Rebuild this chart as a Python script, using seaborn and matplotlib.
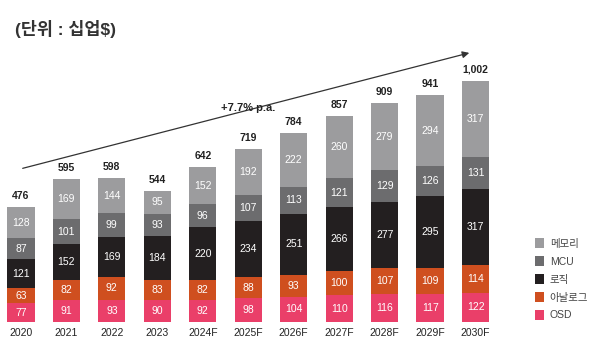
import numpy as np
import pandas as pd
import matplotlib
matplotlib.use("Agg")
import matplotlib.pyplot as plt
import seaborn as sns

years = ["2020", "2021", "2022", "2023", "2024F", "2025F", "2026F",
         "2027F", "2028F", "2029F", "2030F"]
osd = [77, 91, 93, 90, 92, 98, 104, 110, 116, 117, 122]
analog = [63, 82, 92, 83, 82, 88, 93, 100, 107, 109, 114]
logic = [121, 152, 169, 184, 220, 234, 251, 266, 277, 295, 317]
mcu = [87, 101, 99, 93, 96, 107, 113, 121, 129, 126, 131]
memory = [128, 169, 144, 95, 152, 192, 222, 260, 279, 294, 317]
totals = ["476", "595", "598", "544", "642", "719", "784", "857", "909", "941", "1,002"]

names = ["OSD", "아날로그", "로직", "MCU", "메모리"]
colors = ["#ea3f69", "#cf4f1f", "#231f20", "#6c6c6e", "#9c9c9e"]

sns.set_style("white")
plt.rcParams["font.family"] = ["Liberation Sans", "Noto Sans CJK KR"]

segs = np.array([osd, analog, logic, mcu, memory])
cum = segs.cumsum(axis=0)

fig = plt.figure(figsize=(5.94, 3.40), dpi=100)
ax = fig.add_axes([0.0, 0.053, 0.842, 0.921])

# draw from the tallest stack down so each layer covers the one above it
for i in range(4, -1, -1):
    df = pd.DataFrame({"year": years, "v": cum[i]})
    sns.barplot(data=df, x="year", y="v", color=colors[i], saturation=1,
                width=0.6, ax=ax, label=names[i], linewidth=0,
                edgecolor="none")

for j in range(len(years)):
    for i in range(5):
        mid = cum[i, j] - segs[i, j] / 2
        ax.text(j, mid, str(segs[i, j]), ha="center", va="center",
                color="white", fontsize=7.5)
    ax.text(j, cum[4, j] + 25, totals[j], ha="center", va="bottom",
            fontsize=7.5, fontweight="bold", color="#222222")

ax.set_xlim(-0.46, 10.54)
ax.set_ylim(0, 1300)
ax.set_xlabel("")
ax.set_ylabel("")
ax.set_yticks([])
ax.tick_params(axis="x", length=0, labelsize=7.5, pad=4, colors="#222222")
sns.despine(ax=ax, left=True, bottom=True)
ax.legend().remove()

# growth arrow
ax.annotate("", xy=(9.92, 1120), xytext=(-0.02, 635),
            arrowprops=dict(arrowstyle="-|>", color="#333333", lw=0.9,
                            mutation_scale=10))
ax.text(4.99, 890, "+7.7% p.a.", ha="center", va="center",
        fontsize=8, fontweight="bold", color="#222222")

fig.text(0.025, 0.915, "(단위 : 십업$)", fontsize=12.5, fontweight="bold",
         color="#333333", ha="left", va="center")

handles, labels = ax.get_legend_handles_labels()
fig.legend(handles, labels, loc="lower left", bbox_to_anchor=(0.885, 0.03),
           frameon=False, fontsize=7.5, handlelength=0.85, handleheight=1.05,
           labelspacing=0.72, handletextpad=0.55, labelcolor="#444444")

fig.savefig("out.png", dpi=100)
